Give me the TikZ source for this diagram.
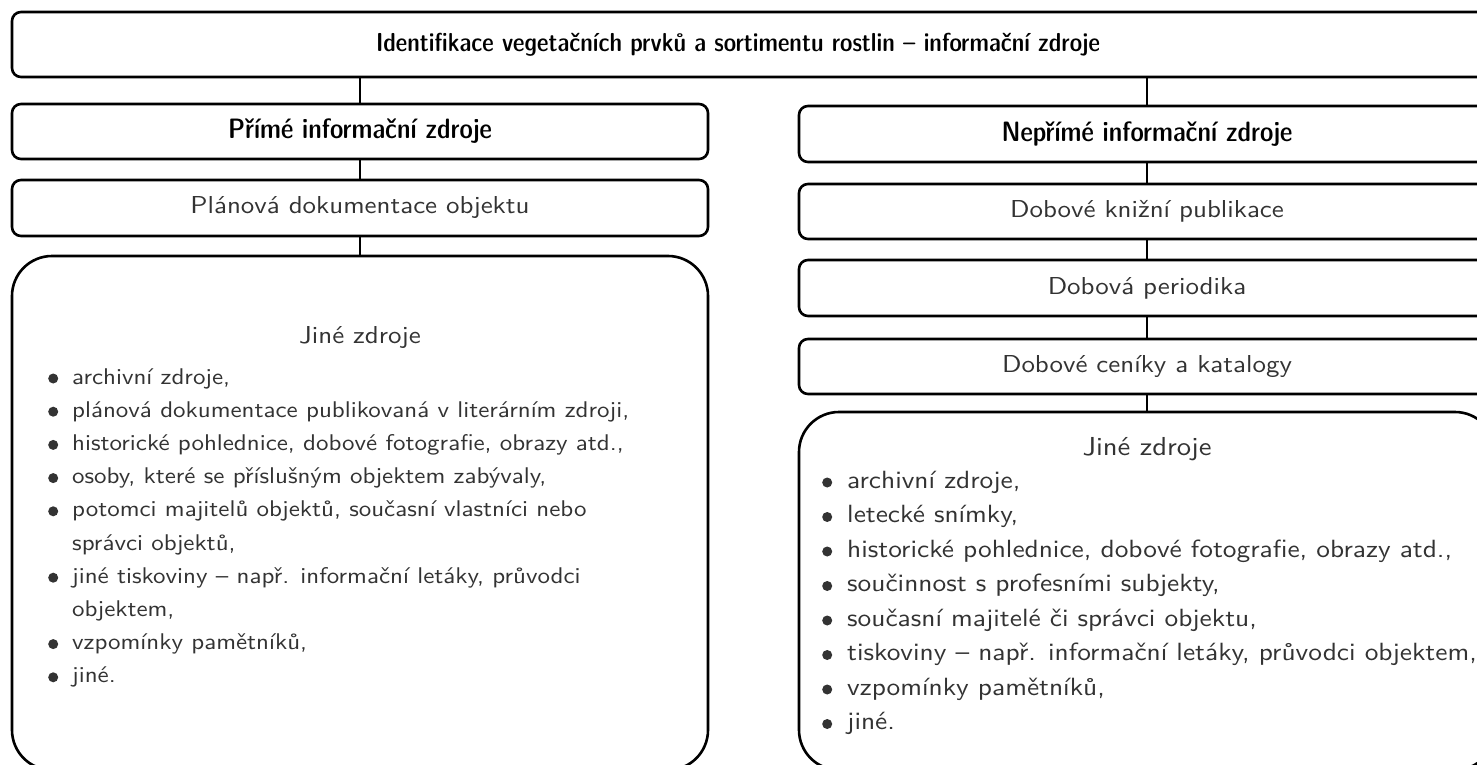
\documentclass[tikz,border=0pt]{standalone}
\usepackage{tikz}
\usepackage{array}
\usepackage{fontspec}
\usetikzlibrary{positioning}

\newfontfamily\plainfont{lmsans10-regular.otf}[FakeStretch=1.1]
\newfontfamily\headfont{lmsansdemicond10-regular.otf}
\newcommand{\dotmark}{\tikz[baseline={(0,-5.5pt)}]\fill (0,0) circle (5pt);}

\tikzset{
    box/.style={draw, line width=2.6pt, rounded corners=9pt, inner sep=0pt,
        font=\plainfont\fontsize{24.5}{28}\selectfont, text=black!80},
    bigbox/.style={draw, line width=2.6pt, rounded corners=40pt, inner sep=0pt},
    head/.style={font=\headfont\fontsize{28}{32}\selectfont, text=black},
    link/.style={line width=2.6pt},
    note/.style={inner sep=0pt, text=black!80},
}

\begin{document}
\begin{tikzpicture}[x=1pt, y=1pt]
    \path[fill=white, use as bounding box] (0,0) rectangle (1477,-765);
    \clip (0,0) rectangle (1477,-765);

    % Main heading
    \node[box, minimum width=1485pt, minimum height=65pt] (titlebox) at (754.5,-44.5) {};
    \node[note, text=black, font=\headfont\fontsize{26}{30}\selectfont] (title) at (738,-45)
        {Identifikace vegetačních prvků a sortimentu rostlin – informační zdroje};

    % Direct sources
    \node[box, head, minimum width=696pt, minimum height=55pt] (prime) at (360,-131.5)
        {Přímé informační zdroje};
    \node[box, minimum width=696pt, minimum height=56pt] (plan) at (360,-208)
        {Plánová dokumentace objektu};
    \node[bigbox, minimum width=696pt, minimum height=514pt] (leftbig) at (360,-513) {};
    \node[note, anchor=base, font=\plainfont\fontsize{24.5}{33.2}\selectfont] (leftother) at (360,-343)
        {Jiné zdroje};
    \node[note, anchor=base west, font=\plainfont\fontsize{22.7}{33.2}\selectfont] (leftlist) at (48,-384)
        {\begin{tabular}[t]{@{}l@{\hspace{14pt}}l@{}}
            \dotmark & archivní zdroje,\\
            \dotmark & plánová dokumentace publikovaná v literárním zdroji,\\
            \dotmark & historické pohlednice, dobové fotografie, obrazy atd.,\\
            \dotmark & osoby, které se příslušným objektem zabývaly,\\
            \dotmark & potomci majitelů objektů, současní vlastníci nebo\\
                     & správci objektů,\\
            \dotmark & jiné tiskoviny – např. informační letáky, průvodci\\
                     & objektem,\\
            \dotmark & vzpomínky pamětníků,\\
            \dotmark & jiné.
        \end{tabular}};

    % Indirect sources
    \node[box, head, minimum width=696pt, minimum height=56pt] (neprime) at (1147,-134)
        {Nepřímé informační zdroje};
    \node[box, minimum width=696pt, minimum height=55pt] (kniz) at (1147,-211.5)
        {Dobové knižní publikace};
    \node[box, minimum width=696pt, minimum height=56pt] (period) at (1147,-288)
        {Dobová periodika};
    \node[box, minimum width=696pt, minimum height=55pt] (cenik) at (1147,-366.5)
        {Dobové ceníky a katalogy};
    \node[bigbox, minimum width=696pt, minimum height=358pt] (rightbig) at (1147,-591) {};
    \node[note, anchor=base, font=\plainfont\fontsize{26}{34.5}\selectfont] (rightother) at (1147,-455)
        {Jiné zdroje};
    \node[note, anchor=base west, font=\plainfont\fontsize{24.9}{34.5}\selectfont] (rightlist) at (822,-488)
        {\begin{tabular}[t]{@{}l@{\hspace{15pt}}l@{}}
            \dotmark & archivní zdroje,\\
            \dotmark & letecké snímky,\\
            \dotmark & historické pohlednice, dobové fotografie, obrazy atd.,\\
            \dotmark & součinnost s profesními subjekty,\\
            \dotmark & současní majitelé či správci objektu,\\
            \dotmark & tiskoviny – např. informační letáky, průvodci objektem,\\
            \dotmark & vzpomínky pamětníků,\\
            \dotmark & jiné.
        \end{tabular}};

    % Connectors
    \draw[link] (prime.north) -- (prime.north |- titlebox.south);
    \draw[link] (prime.south) -- (plan.north);
    \draw[link] (plan.south) -- (leftbig.north);
    \draw[link] (neprime.north) -- (neprime.north |- titlebox.south);
    \draw[link] (neprime.south) -- (kniz.north);
    \draw[link] (kniz.south) -- (period.north);
    \draw[link] (period.south) -- (cenik.north);
    \draw[link] (cenik.south) -- (rightbig.north);
\end{tikzpicture}
\end{document}
